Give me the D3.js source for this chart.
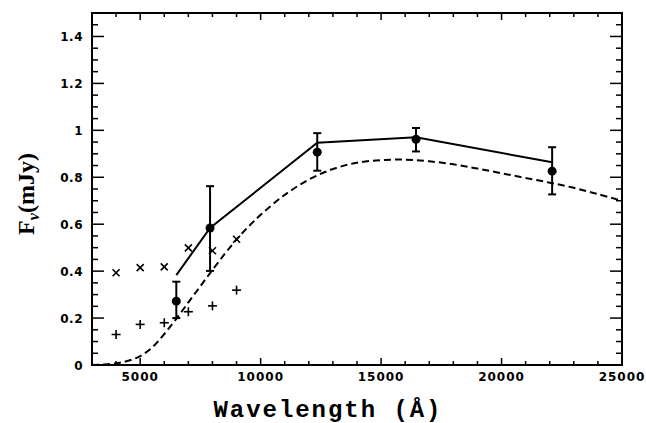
<!DOCTYPE html>
<html><head><meta charset="utf-8">
<script src="https://cdn.jsdelivr.net/npm/d3@7"></script>
<style>body{margin:0;background:#fff}</style>
</head><body>
<svg id="c" width="646" height="423"></svg>
<script>
// Data
const obsWave = [6500, 7900, 12350, 16450, 22100];
const obsFlux = [0.272, 0.584, 0.907, 0.962, 0.826];
const obsLow  = [0.200, 0.401, 0.828, 0.910, 0.727];
const obsHigh = [0.355, 0.762, 0.988, 1.010, 0.928];

const modelWave = [6500, 7900, 12350, 16450, 22100];
const modelFlux = [0.383, 0.584, 0.947, 0.970, 0.864];

const bbWave = [3000,3500,4000,4500,5000,5500,6000,6500,7000,7500,8000,8500,9000,9500,10000,11000,12000,13000,14000,15000,16000,17000,18000,19000,20000,21000,22000,23000,24000,25000];
const bbFlux = [0,0.002,0.007,0.018,0.038,0.075,0.132,0.197,0.267,0.336,0.405,0.472,0.535,0.59,0.64,0.725,0.79,0.835,0.862,0.873,0.875,0.868,0.855,0.837,0.817,0.797,0.777,0.755,0.728,0.70];

const crossWave = [4000, 5000, 6000, 7000, 8000, 9000];
const crossFlux = [0.393, 0.415, 0.418, 0.499, 0.487, 0.536];

const plusWave = [4000, 5000, 6000, 7000, 8000, 9000];
const plusFlux = [0.130, 0.173, 0.180, 0.227, 0.252, 0.319];

const xTicks = [5000, 10000, 15000, 20000, 25000];
const yTicks = [0, 0.2, 0.4, 0.6, 0.8, 1, 1.2, 1.4];

const svg = d3.select("#c");
const L = 92, R = 622, T = 13, B = 365;
const x = d3.scaleLinear().domain([3000, 25000]).range([L, R]);
const y = d3.scaleLinear().domain([0, 1.5]).range([B, T]);

// ticks on all sides
const xMinor = d3.range(4000, 25000, 1000);
const yMinor = d3.range(0.05, 1.5, 0.05);
const tg = svg.append("g").attr("stroke", "#000").attr("stroke-width", 1.5);
xMinor.forEach(v => {
  const major = Math.abs(v % 5000) < 1;
  const len = major ? 7 : 4;
  tg.append("line").attr("x1", x(v)).attr("x2", x(v)).attr("y1", B).attr("y2", B - len);
  tg.append("line").attr("x1", x(v)).attr("x2", x(v)).attr("y1", T).attr("y2", T + len);
});
yMinor.forEach(v => {
  const major = Math.abs((v * 100) % 20) < 0.5 || Math.abs((v * 100) % 20 - 20) < 0.5;
  const len = major ? 12 : 6;
  tg.append("line").attr("y1", y(v)).attr("y2", y(v)).attr("x1", L).attr("x2", L + len);
  tg.append("line").attr("y1", y(v)).attr("y2", y(v)).attr("x1", R).attr("x2", R - len);
});
svg.append("rect").attr("x", L).attr("y", T).attr("width", R - L).attr("height", B - T)
  .attr("fill", "none").attr("stroke", "#000").attr("stroke-width", 2);

// tick labels
const lab = svg.append("g").attr("font-family", "DejaVu Sans").attr("font-weight", "bold")
  .attr("font-size", 12).attr("fill", "#000");
xTicks.forEach(v => lab.append("text").attr("x", x(v)).attr("y", 381)
  .attr("text-anchor", "middle").attr("letter-spacing", 1).text(v));
yTicks.forEach(v => lab.append("text").attr("x", 83).attr("y", y(v) + 4.5)
  .attr("text-anchor", "end").attr("letter-spacing", 0.5).text(v));

// axis titles
svg.append("text").attr("x", 327).attr("y", 417).attr("text-anchor", "middle")
  .attr("font-family", "Liberation Mono").attr("font-weight", "bold").attr("font-size", 24)
  .attr("textLength", 227).attr("lengthAdjust", "spacing")
  .text("Wavelength (Å)");
const yl = svg.append("text").attr("transform", "translate(34,194) rotate(-90)")
  .attr("text-anchor", "middle").attr("font-family", "Liberation Serif")
  .attr("font-weight", "bold").attr("font-size", 24);
yl.append("tspan").text("F");
yl.append("tspan").attr("font-size", 16).attr("font-style", "italic").attr("dy", 5).text("ν");
yl.append("tspan").attr("dy", -5).text("(mJy)");

// dashed curve
const line = d3.line().x(d => x(d[0])).y(d => y(d[1])).curve(d3.curveCatmullRom);
svg.append("path").datum(bbWave.map((w, i) => [w, bbFlux[i]]))
  .attr("d", line).attr("fill", "none").attr("stroke", "#000").attr("stroke-width", 2)
  .attr("stroke-dasharray", "7,4");
// solid model
svg.append("path").datum(modelWave.map((w, i) => [w, modelFlux[i]]))
  .attr("d", d3.line().x(d => x(d[0])).y(d => y(d[1]))).attr("fill", "none")
  .attr("stroke", "#000").attr("stroke-width", 2);

// error bars & points
const eg = svg.append("g").attr("stroke", "#000").attr("stroke-width", 2);
obsWave.forEach((w, i) => {
  eg.append("line").attr("x1", x(w)).attr("x2", x(w)).attr("y1", y(obsLow[i])).attr("y2", y(obsHigh[i]));
  eg.append("line").attr("x1", x(w) - 4).attr("x2", x(w) + 4).attr("y1", y(obsLow[i])).attr("y2", y(obsLow[i]));
  eg.append("line").attr("x1", x(w) - 4).attr("x2", x(w) + 4).attr("y1", y(obsHigh[i])).attr("y2", y(obsHigh[i]));
});
svg.selectAll("circle.obs").data(obsWave).enter().append("circle")
  .attr("cx", d => x(d)).attr("cy", (d, i) => y(obsFlux[i])).attr("r", 4.5).attr("fill", "#000");

// crosses
const cg = svg.append("g").attr("stroke", "#000").attr("stroke-width", 1.6);
crossWave.forEach((w, i) => {
  const cx = x(w), cy = y(crossFlux[i]), s = 3.5;
  cg.append("line").attr("x1", cx - s).attr("x2", cx + s).attr("y1", cy - s).attr("y2", cy + s);
  cg.append("line").attr("x1", cx - s).attr("x2", cx + s).attr("y1", cy + s).attr("y2", cy - s);
});
plusWave.forEach((w, i) => {
  const cx = x(w), cy = y(plusFlux[i]), s = 4.5;
  cg.append("line").attr("x1", cx - s).attr("x2", cx + s).attr("y1", cy).attr("y2", cy);
  cg.append("line").attr("x1", cx).attr("x2", cx).attr("y1", cy - s).attr("y2", cy + s);
});
</script>
</body></html>
